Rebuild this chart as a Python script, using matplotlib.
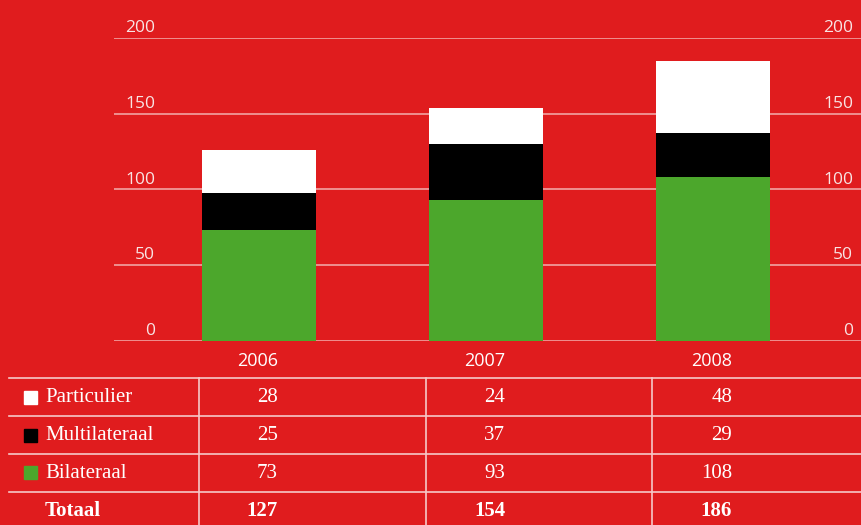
import matplotlib
matplotlib.use("Agg")
import matplotlib.pyplot as plt
from matplotlib.transforms import blended_transform_factory

# data
years = ["2006", "2007", "2008"]
particulier = [28, 24, 48]
multilateraal = [25, 37, 29]
bilateraal = [73, 93, 108]
totaal = [127, 154, 186]
yticks = [0, 50, 100, 150, 200]

RED = "#E01C1E"
GREEN = "#4CA72C"
GRID = "#F1A3A3"
LINE = "#F6C8C8"
SANS = "Open Sans"
SERIF = "Liberation Serif"

W, H = 861, 525
fig = plt.figure(figsize=(W / 100, H / 100), dpi=100, facecolor=RED)

# chart area in pixel terms: x 114..861, y 38..341
ax = fig.add_axes([114 / W, 1 - 341 / H, 1 - 114 / W, (341 - 38) / H])
ax.set_facecolor(RED)
xs = list(range(len(years)))
ax.set_xlim(-145 / 227, 2 + 148 / 227)
ax.set_ylim(0, 200)
for s in ax.spines.values():
    s.set_visible(False)
ax.set_xticks([])
ax.set_yticks([])

for t in yticks:
    ax.axhline(t, color=GRID, lw=1.2, zorder=0)

bw = 114 / 227
ax.bar(xs, bilateraal, width=bw, color=GREEN, zorder=2)
bottom2 = [b for b in bilateraal]
ax.bar(xs, multilateraal, width=bw, bottom=bottom2, color="black", zorder=2)
bottom3 = [b + m for b, m in zip(bilateraal, multilateraal)]
ax.bar(xs, particulier, width=bw, bottom=bottom3, color="white", zorder=2)

# overlay in pixel coordinates for labels and table
ov = fig.add_axes([0, 0, 1, 1], facecolor="none")
ov.set_xlim(0, W)
ov.set_ylim(H, 0)
ov.axis("off")

px = lambda v: 341 - v * (341 - 38) / 200
for t in yticks:
    ov.text(155, px(t) - 6, str(t), ha="right", va="baseline",
            color="#F8E4E4", fontsize=12.5, family=SANS)
    ov.text(853, px(t) - 6, str(t), ha="right", va="baseline",
            color="#F8E4E4", fontsize=12.5, family=SANS)

# columns: x in bar data coords, y in pixels
tr = blended_transform_factory(ax.transData, ov.transData)
off = 19 / 227
for x, yr in zip(xs, years):
    ov.text(x + off, 361, yr, transform=tr, ha="right", va="center",
            color="white", fontsize=13, family=SANS)

# table grid
for y in [378, 416, 454, 492]:
    ov.plot([9, W], [y, y], color=LINE, lw=1.2)
for x in [199, 426, 652]:
    ov.plot([x, x], [378, H], color=LINE, lw=1.2)

rows = [
    ("Particulier", "white", particulier),
    ("Multilateraal", "black", multilateraal),
    ("Bilateraal", GREEN, bilateraal),
]
row_y = [398, 436, 473]
for (name, col, vals), y in zip(rows, row_y):
    ov.add_patch(plt.Rectangle((24, y - 7), 13, 13, color=col))
    ov.text(45, y, name, ha="left", va="center", color="white",
            fontsize=15, family=SERIF)
    for x, v in zip(xs, vals):
        ov.text(x + off, y, str(v), transform=tr, ha="right", va="center",
                color="white", fontsize=15, family=SERIF)

ov.text(45, 511, "Totaal", ha="left", va="center", color="white",
        fontsize=15, family=SERIF, fontweight="bold")
for x, v in zip(xs, totaal):
    ov.text(x + off, 511, str(v), transform=tr, ha="right", va="center",
            color="white", fontsize=15, family=SERIF, fontweight="bold")

fig.savefig("out.png", dpi=100, facecolor=RED)
